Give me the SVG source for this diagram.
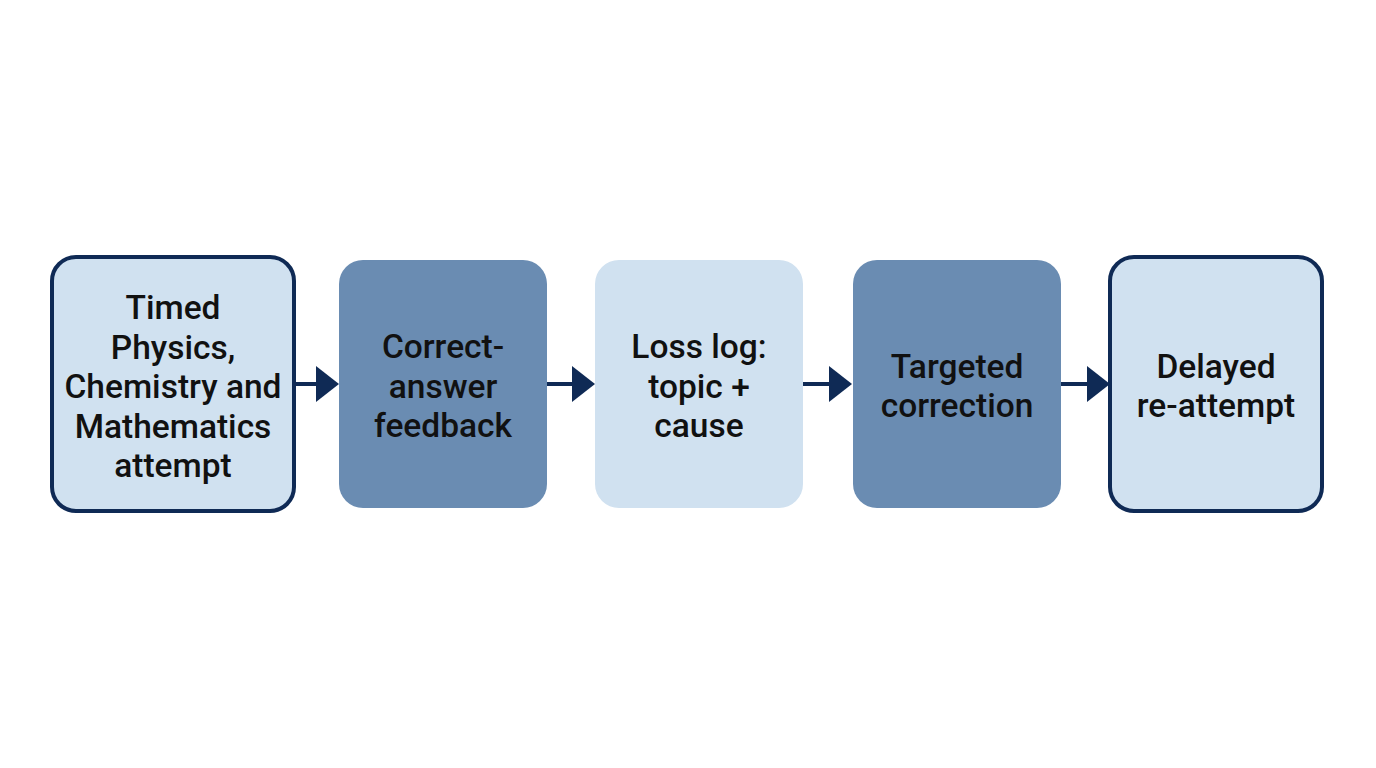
<svg xmlns="http://www.w3.org/2000/svg" width="1376" height="768" viewBox="0 0 1376 768">
<style>
.t{font-family:Roboto,"Liberation Sans",sans-serif;font-size:33.5px;font-weight:500;fill:#111;text-anchor:middle}
.lo{fill:#d0e1f0;stroke:#0f2a55;stroke-width:4}
.ln{fill:#d0e1f0}
.dk{fill:#6a8cb2}
.c{stroke:#0f2a55;stroke-width:4;fill:none}
.h{fill:#0f2a55}
</style>
<rect width="1376" height="768" fill="#fff"/>
<g id="connectors">
<path class="c" d="M294,384 H318"/><path class="h" d="M316,366 L339,384 L316,402Z"/>
<path class="c" d="M547,384 H574"/><path class="h" d="M572,366 L595,384 L572,402Z"/>
<path class="c" d="M803,384 H831"/><path class="h" d="M829,366 L852,384 L829,402Z"/>
<path class="c" d="M1061,384 H1089"/><path class="h" d="M1087,366 L1110,384 L1087,402Z"/>
</g>
<g id="n1">
<rect class="lo" x="52" y="257" width="242" height="254" rx="24"/>
<text class="t" x="173" y="319">Timed</text>
<text class="t" x="173" y="359">Physics,</text>
<text class="t" x="173" y="398">Chemistry and</text>
<text class="t" x="173" y="438">Mathematics</text>
<text class="t" x="173" y="477">attempt</text>
</g>
<g id="n2">
<rect class="dk" x="339" y="260" width="208" height="248" rx="24"/>
<text class="t" x="443" y="358">Correct-</text>
<text class="t" x="443" y="398">answer</text>
<text class="t" x="443" y="437">feedback</text>
</g>
<g id="n3">
<rect class="ln" x="595" y="260" width="208" height="248" rx="24"/>
<text class="t" x="699" y="358">Loss log:</text>
<text class="t" x="699" y="398">topic +</text>
<text class="t" x="699" y="437">cause</text>
</g>
<g id="n4">
<rect class="dk" x="853" y="260" width="208" height="248" rx="24"/>
<text class="t" x="957" y="378">Targeted</text>
<text class="t" x="957" y="417">correction</text>
</g>
<g id="n5">
<rect class="lo" x="1110" y="257" width="212" height="254" rx="24"/>
<text class="t" x="1216" y="378">Delayed</text>
<text class="t" x="1216" y="417">re-attempt</text>
</g>
</svg>
